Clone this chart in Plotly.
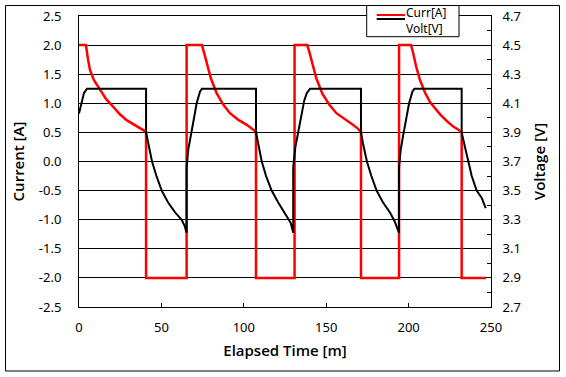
import plotly.graph_objects as go

# ---- data ----
curr_t = [0, 4.2, 5.5, 6.7, 9.0, 12.7, 16.5, 20.8, 24.5, 28.9, 33.5, 37.0, 39.0, 40.7,
          40.7, 65.3,
          65.3, 74.6, 75.8, 77.5, 80.0, 83.6, 87.5, 91.6, 96.5, 101.8, 105.0, 107.4,
          107.4, 130.8,
          130.8, 138.5, 139.8, 141.5, 144.0, 147.6, 151.8, 156.2, 161.3, 166.2, 169.0, 171.1,
          171.1, 194.2,
          194.2, 201.5, 202.8, 204.5, 206.9, 210.0, 213.0, 216.0, 219.1, 223.0, 227.1, 230.0, 232.2,
          232.2, 247.0]
curr_a = [2.0, 2.0, 1.75, 1.57, 1.40, 1.23, 1.07, 0.94, 0.82, 0.71, 0.63, 0.57, 0.54, 0.51,
          -2.0, -2.0,
          2.0, 2.0, 1.88, 1.69, 1.43, 1.17, 0.98, 0.83, 0.72, 0.63, 0.57, 0.51,
          -2.0, -2.0,
          2.0, 2.0, 1.88, 1.69, 1.43, 1.17, 0.98, 0.83, 0.72, 0.63, 0.57, 0.51,
          -2.0, -2.0,
          2.0, 2.0, 1.86, 1.64, 1.40, 1.18, 1.02, 0.91, 0.81, 0.70, 0.60, 0.55, 0.51,
          -2.0, -2.0]

volt_t = [0, 1.6, 3.0, 4.8, 40.7,
          40.7, 42.0, 44.3, 47.0, 50.2, 54.0, 58.3, 62.3, 64.0, 65.3,
          65.3, 66.3, 67.8, 69.4, 71.4, 73.4, 74.6, 107.4,
          107.4, 108.8, 110.9, 113.5, 116.9, 120.8, 124.8, 128.4, 130.0,
          130.0, 131.3, 133.1, 135.1, 136.7, 138.2, 140.2, 171.1,
          171.1, 172.4, 174.7, 177.4, 180.6, 184.4, 188.7, 191.5, 194.2,
          194.2, 195.2, 196.7, 198.3, 200.3, 202.3, 203.5, 232.2,
          232.2, 234.2, 236.2, 238.3, 241.3, 244.4, 246.8]
volt_v = [4.03, 4.10, 4.17, 4.20, 4.20,
          3.90, 3.82, 3.70, 3.60, 3.50, 3.42, 3.35, 3.30, 3.26, 3.21,
          3.66, 3.78, 3.88, 3.98, 4.10, 4.18, 4.20, 4.20,
          3.90, 3.82, 3.70, 3.60, 3.50, 3.42, 3.35, 3.28, 3.21,
          3.66, 3.80, 3.91, 4.05, 4.12, 4.17, 4.20, 4.20,
          3.90, 3.82, 3.70, 3.60, 3.50, 3.42, 3.35, 3.29, 3.21,
          3.66, 3.78, 3.88, 3.98, 4.10, 4.18, 4.20, 4.20,
          3.90, 3.80, 3.70, 3.60, 3.50, 3.45, 3.38]

x_ticks = [0, 50, 100, 150, 200, 250]
x_ticktext = ["0", "50", "100", "150", "200", "250"]
yl_ticks = [2.5, 2.0, 1.5, 1.0, 0.5, 0.0, -0.5, -1.0, -1.5, -2.0, -2.5]
yl_ticktext = ["2.5", "2.0", "1.5", "1.0", "0.5", "0.0", "-0.5", "-1.0", "-1.5", "-2.0", "-2.5"]
yr_ticks = [4.7, 4.5, 4.3, 4.1, 3.9, 3.7, 3.5, 3.3, 3.1, 2.9, 2.7]
yr_ticktext = ["4.7", "4.5", "4.3", "4.1", "3.9", "3.7", "3.5", "3.3", "3.1", "2.9", "2.7"]
legend_labels = ["Curr[A]", "Volt[V]"]

FONT = "Noto Sans"
TITLE_FONT = dict(family="Open Sans", size=15, weight=600)

fig = go.Figure()
fig.add_trace(go.Scatter(x=curr_t, y=curr_a, name=legend_labels[0], mode="lines",
                         line=dict(color="#ff0000", width=2.5), yaxis="y"))
fig.add_trace(go.Scatter(x=volt_t, y=volt_v, name=legend_labels[1], mode="lines",
                         line=dict(color="#000000", width=2), yaxis="y2"))

fig.update_layout(
    template="none",
    width=566, height=377,
    margin=dict(l=79, r=75, t=16, b=70, pad=0, autoexpand=False),
    paper_bgcolor="white", plot_bgcolor="white",
    font=dict(family=FONT, size=13, color="black"),
    showlegend=False,
    xaxis=dict(range=[0, 250], tickvals=x_ticks, ticktext=x_ticktext,
               ticks="inside", ticklen=4, tickcolor="black", automargin=False,
               showgrid=False, zeroline=False,
               showline=True, linecolor="black", linewidth=1, mirror=True,
               ticklabelstandoff=8,
               title=dict(text="Elapsed Time [m]", font=TITLE_FONT, standoff=10)),
    yaxis=dict(range=[-2.5, 2.5], tickvals=yl_ticks, ticktext=yl_ticktext,
               ticks="", showgrid=True, gridcolor="black", gridwidth=1, automargin=False,
               zeroline=False, showline=True, linecolor="black", linewidth=1,
               ticklabelstandoff=14,
               title=dict(text="Current [A]", font=TITLE_FONT, standoff=10)),
    yaxis2=dict(range=[2.7, 4.7], tickvals=yr_ticks, ticktext=yr_ticktext,
                overlaying="y", side="right", automargin=False,
                ticks="inside", ticklen=4, tickcolor="black",
                minor=dict(ticks="inside", ticklen=4, tickcolor="black", dtick=0.1, tick0=2.7, showgrid=False),
                showgrid=False, zeroline=False,
                showline=True, linecolor="black", linewidth=1,
                ticklabelstandoff=8,
                title=dict(text="Voltage [V]", font=TITLE_FONT, standoff=14)),
)

def px(x):
    return (x - 79) / 412

def py(y):
    return (307 - y) / 291

# outer frame around the whole chart
fig.add_shape(type="rect", xref="paper", yref="paper",
              x0=px(5.5), x1=px(559.5), y0=py(371), y1=py(5.5),
              line=dict(color="black", width=1), fillcolor="rgba(0,0,0,0)", layer="above")

# legend box drawn by hand
fig.add_shape(type="rect", xref="paper", yref="paper",
              x0=px(366.7), x1=px(459), y0=py(36.7), y1=py(5.5),
              line=dict(color="black", width=1), fillcolor="white", layer="above")
for color, ly in [("#ff0000", 15), ("#000000", 19)]:
    fig.add_shape(type="line", xref="paper", yref="paper",
                  x0=px(376.7), x1=px(405), y0=py(ly), y1=py(ly),
                  line=dict(color=color, width=2), layer="above")
fig.add_annotation(xref="paper", yref="paper", x=px(405), y=py(20.5),
                   text="<br>".join(legend_labels), showarrow=False,
                   xanchor="left", yanchor="middle", align="left",
                   borderpad=0, font=dict(size=12, color="black"))

fig.write_html("out.html", config={"displayModeBar": False},
               post_script="document.body.style.margin='0';document.body.style.overflow='hidden';")
